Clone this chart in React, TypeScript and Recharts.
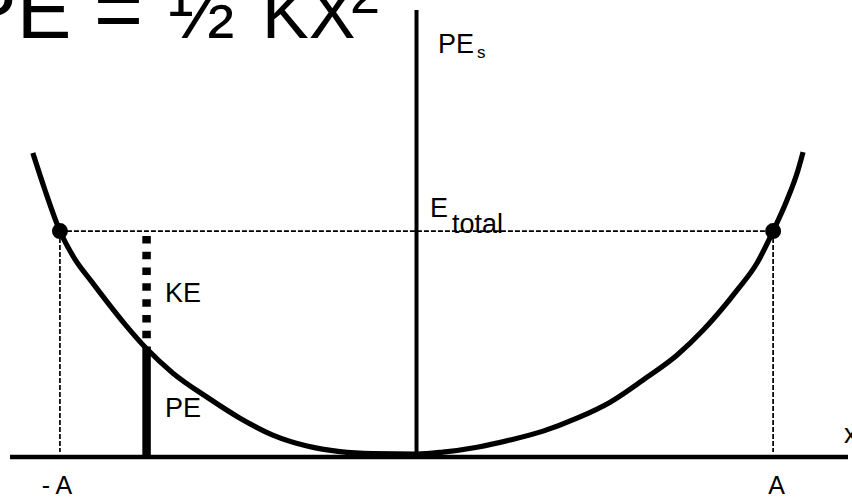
import React from "react";
import {
  ComposedChart,
  Line,
  XAxis,
  YAxis,
  ReferenceLine,
  ReferenceDot,
} from "recharts";

// curve PE(x) (A = 10, E_total = 10)
const curveX = [
  -10.76, -10.42, -10.0, -9.58, -9.1, -8.65, -8.18, -7.56, -6.83, -5.88, -4.95, -4.03, -3.07, -2.15,
  -1.22, 0, 0.74, 1.7, 2.62, 3.55, 4.5, 5.43, 6.35, 7.31, 8.04, 8.99, 9.55, 10.0, 10.39, 10.7, 10.84,
];
const curveY = [
  13.5, 11.84, 10.0, 8.74, 7.71, 6.77, 5.83, 4.71, 3.63, 2.56, 1.61, 0.85, 0.36, 0.11,
  0.02, 0, 0.09, 0.31, 0.63, 1.03, 1.61, 2.33, 3.32, 4.44, 5.56, 7.35, 8.57, 10.0, 11.39, 12.74, 13.54,
];

const amplitude = 10;
const eTotal = 10;
const sampleX = -7.57;
const sampleKETop = 9.78;
const samplePE = 4.71;
const axisBottom = -0.13;

const tickValues = [-amplitude, amplitude];
const tickLabels = ["- A", "A"];

const curve = curveX.map((x, i) => ({ x, y: curveY[i] }));

const font = "'Liberation Sans', Arial, Helvetica, sans-serif";

function AmpTick(props: any) {
  const { x, payload } = props;
  const i = tickValues.indexOf(payload.value);
  return (
    <text x={x + (i === 0 ? -3 : 3.5)} y={494} textAnchor="middle" fontSize={25} fontFamily={font} fill="#000">
      {tickLabels[i]}
    </text>
  );
}

export default function App() {
  return (
    <div style={{ position: "absolute", left: 0, top: 0, width: 852, height: 498, background: "#fff" }}>
      <ComposedChart width={852} height={498} margin={{ top: 10, right: 4, left: 10, bottom: 1 }}>
        <XAxis
          type="number"
          dataKey="x"
          domain={[-11.4, 12.1]}
          allowDataOverflow
          ticks={tickValues}
          tick={<AmpTick />}
          tickLine={false}
          height={40}
          axisLine={{ stroke: "#000", strokeWidth: 4.5 }}
        />
        <YAxis type="number" dataKey="y" domain={[axisBottom, 19.91]} allowDataOverflow hide />
        <ReferenceLine x={0} stroke="#000" strokeWidth={4} />
        <ReferenceLine
          segment={[{ x: -amplitude, y: eTotal }, { x: amplitude, y: eTotal }]}
          stroke="#000"
          strokeWidth={1.7}
          strokeDasharray="5 2"
        />
        <ReferenceLine
          segment={[{ x: -amplitude, y: eTotal }, { x: -amplitude, y: 0.09 }]}
          stroke="#000"
          strokeWidth={1.7}
          strokeDasharray="5 2"
        />
        <ReferenceLine
          segment={[{ x: amplitude, y: eTotal }, { x: amplitude, y: 0.09 }]}
          stroke="#000"
          strokeWidth={1.7}
          strokeDasharray="5 2"
        />
        <ReferenceLine
          segment={[{ x: sampleX, y: sampleKETop }, { x: sampleX, y: samplePE }]}
          stroke="#000"
          strokeWidth={8.5}
          strokeDasharray="7.5 8.3"
        />
        <ReferenceLine
          segment={[{ x: sampleX, y: samplePE }, { x: sampleX, y: axisBottom }]}
          stroke="#000"
          strokeWidth={8.5}
        />
        <Line
          data={curve}
          dataKey="y"
          type="monotone"
          stroke="#000"
          strokeWidth={5.2}
          dot={false}
          isAnimationActive={false}
        />
        <ReferenceDot x={-amplitude} y={eTotal} r={8} fill="#000" stroke="none" />
        <ReferenceDot x={amplitude} y={eTotal} r={8} fill="#000" stroke="none" />
      </ComposedChart>
      <svg
        width={852}
        height={498}
        style={{ position: "absolute", left: 0, top: 0, pointerEvents: "none" }}
        fontFamily={font}
        fill="#000"
      >
        <text x={-38} y={38} fontSize={82}>PE</text>
        <text x={94} y={38} fontSize={84}>=</text>
        <text x={168} y={38} fontSize={80}>½</text>
        <text x={262} y={38} fontSize={70}>KX</text>
        <text x={350} y={13} fontSize={54}>2</text>
        <text x={438} y={53} fontSize={27}>
          PE<tspan dx={3} dy={5} fontSize={17}>s</tspan>
        </text>
        <text x={430} y={217} fontSize={27}>
          E<tspan dx={4} dy={16}>total</tspan>
        </text>
        <text x={165} y={302} fontSize={27}>KE</text>
        <text x={165} y={417} fontSize={27}>PE</text>
        <text x={844} y={443} fontSize={27}>x</text>
      </svg>
    </div>
  );
}
